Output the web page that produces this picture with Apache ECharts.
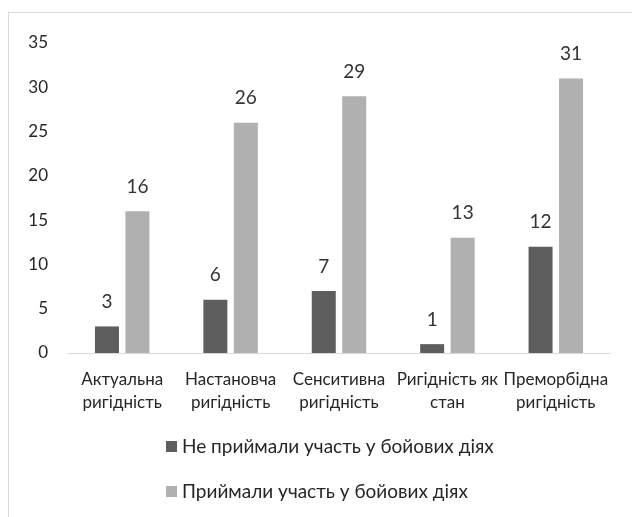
<!DOCTYPE html>
<html>
<head>
<meta charset="utf-8">
<script src="https://cdn.jsdelivr.net/npm/echarts@6/dist/echarts.min.js"></script>
<style>
  html, body { margin: 0; padding: 0; background: #fff; }
  .frame { position: absolute; left: 8px; top: 12px; width: 640px; height: 520px; border: 1px solid #d9d9d9; }
  .chart { position: absolute; left: 0; top: 0; width: 632px; height: 517px; }
</style>
</head>
<body>
<div class="frame"></div>
<div class="chart"></div>
<script>
  // категорії та значення
  var categories = ['Актуальна\nригідність', 'Настановча\nригідність', 'Сенситивна\nригідність', 'Ригідність як\nстан', 'Преморбідна\nригідність'];
  var seriesNames = ['Не приймали участь у бойових діях', 'Приймали участь у бойових діях'];
  var notParticipated = [3, 6, 7, 1, 12];
  var participated = [16, 26, 29, 13, 31];
  var yTicks = { min: 0, max: 35, interval: 5 };

  var font = 'Lato, "Open Sans", sans-serif';
  var chart = echarts.init(document.querySelector('.chart'));

  var labelStyle = {
    show: true,
    position: 'top',
    distance: 15,
    color: '#333333',
    fontSize: 19,
    fontFamily: font
  };

  var option = {
    animation: false,
    textStyle: { fontFamily: font },
    grid: { left: 68, right: 22, top: 43, bottom: 164 },
    legend: {
      orient: 'vertical',
      left: 161,
      top: 432,
      itemWidth: 11,
      itemHeight: 11,
      itemGap: 26,
      icon: 'rect',
      textStyle: { fontSize: 19, color: '#262626', fontFamily: font },
      data: seriesNames
    },
    xAxis: {
      type: 'category',
      data: categories,
      axisLine: { lineStyle: { color: '#d9d9d9', width: 1 } },
      axisTick: { show: false },
      axisLabel: { color: '#262626', fontSize: 17, lineHeight: 23, margin: 15, interval: 0, fontFamily: font }
    },
    yAxis: {
      type: 'value',
      min: yTicks.min,
      max: yTicks.max,
      interval: yTicks.interval,
      splitLine: { show: false },
      axisLine: { show: false },
      axisTick: { show: false },
      axisLabel: { color: '#262626', fontSize: 17, margin: 20, fontFamily: font }
    },
    series: [
      {
        name: seriesNames[0],
        type: 'bar',
        barWidth: 24,
        barGap: '27%',
        itemStyle: { color: '#5e5e5e' },
        label: labelStyle,
        data: notParticipated
      },
      {
        name: seriesNames[1],
        type: 'bar',
        barWidth: 24,
        itemStyle: { color: '#b0b0b0' },
        label: labelStyle,
        data: participated
      }
    ]
  };

  chart.setOption(option);
</script>
</body>
</html>
